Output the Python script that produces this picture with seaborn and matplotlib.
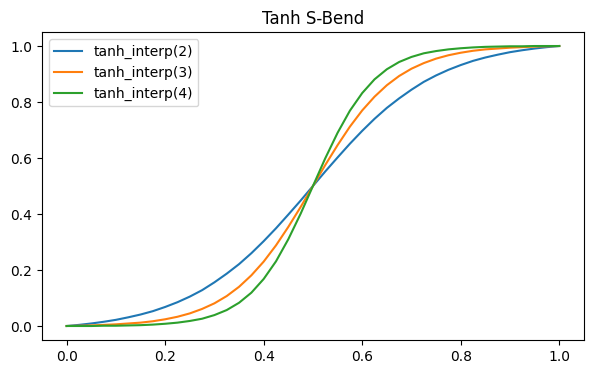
import matplotlib
matplotlib.use('Agg')
import matplotlib.pyplot as plt
import seaborn as sns
import pandas as pd


# sample positions along the bend
x_vals = [0.000, 0.025, 0.050, 0.075, 0.100, 0.125, 0.150, 0.175, 0.200, 0.225,
          0.250, 0.275, 0.300, 0.325, 0.350, 0.375, 0.400, 0.425, 0.450, 0.475,
          0.500, 0.525, 0.550, 0.575, 0.600, 0.625, 0.650, 0.675, 0.700, 0.725,
          0.750, 0.775, 0.800, 0.825, 0.850, 0.875, 0.900, 0.925, 0.950, 0.975,
          1.000]

# values
tanh_2 = [0.000, 0.004, 0.009, 0.015, 0.022, 0.031, 0.041, 0.053, 0.068, 0.085,
          0.105, 0.128, 0.156, 0.187, 0.221, 0.260, 0.303, 0.349, 0.398, 0.448,
          0.500, 0.552, 0.602, 0.651, 0.697, 0.740, 0.779, 0.813, 0.844, 0.872,
          0.895, 0.915, 0.932, 0.947, 0.959, 0.969, 0.978, 0.985, 0.991, 0.996,
          1.000]
tanh_3 = [0.000, 0.001, 0.002, 0.004, 0.006, 0.009, 0.012, 0.017, 0.024, 0.033,
          0.045, 0.061, 0.081, 0.107, 0.140, 0.181, 0.230, 0.288, 0.354, 0.425,
          0.500, 0.575, 0.646, 0.712, 0.770, 0.819, 0.860, 0.893, 0.919, 0.939,
          0.955, 0.967, 0.976, 0.983, 0.988, 0.991, 0.994, 0.996, 0.998, 0.999,
          1.000]
tanh_4 = [0.000, 0.000, 0.000, 0.001, 0.001, 0.002, 0.003, 0.005, 0.008, 0.012,
          0.018, 0.026, 0.039, 0.057, 0.083, 0.119, 0.168, 0.231, 0.310, 0.401,
          0.500, 0.599, 0.690, 0.769, 0.832, 0.881, 0.917, 0.943, 0.961, 0.974,
          0.982, 0.988, 0.992, 0.995, 0.997, 0.998, 0.999, 0.999, 1.000, 1.000,
          1.000]

series_names = ['tanh_interp(2)', 'tanh_interp(3)', 'tanh_interp(4)']
series_vals = [tanh_2, tanh_3, tanh_4]

frames = []
for name, vals in zip(series_names, series_vals):
    frames.append(pd.DataFrame({'x': x_vals, 'y': vals, 'curve': name}))
df = pd.concat(frames, ignore_index=True)

fig, ax = plt.subplots(figsize=(5.94, 3.74), dpi=100)
sns.lineplot(data=df, x='x', y='y', hue='curve', palette='tab10',
             linewidth=1.5, ax=ax)
ax.set_xlabel('')
ax.set_ylabel('')
ax.set_title('Tanh S-Bend', fontsize=12)
ax.set_xticks([0.0, 0.2, 0.4, 0.6, 0.8, 1.0])
ax.set_yticks([0.0, 0.2, 0.4, 0.6, 0.8, 1.0])
ax.legend(loc='upper left', fontsize=10)

plt.subplots_adjust(left=0.0707, right=0.983, bottom=0.0909, top=0.9144)
plt.savefig('out.png', dpi=100)
